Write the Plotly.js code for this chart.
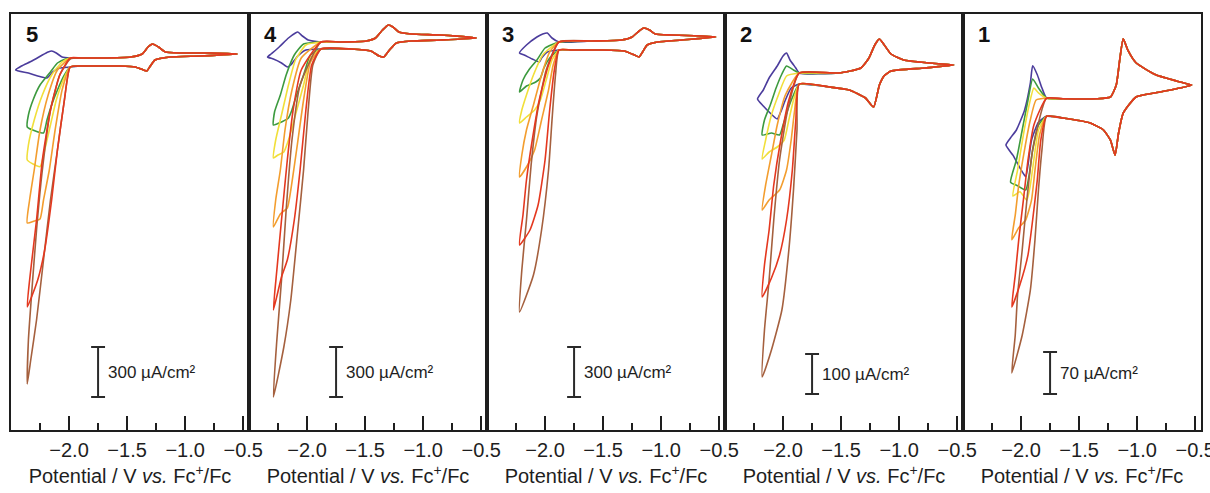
<!DOCTYPE html>
<html>
<head>
<meta charset="utf-8">
<script src="https://cdn.plot.ly/plotly-3.0.1.min.js"></script>
<style>html,body{margin:0;padding:0;background:#fff}#chart{width:1210px;height:493px}</style>
</head>
<body>
<div id="chart"></div>
<script>
// ---------- Panel 5 (current density in µA/cm², potential in V vs Fc+/Fc) ----------
const p5LowV = [-0.55, -0.87, -1.13, -1.26, -1.30, -1.33, -1.36, -1.43, -1.56, -1.73, -1.90];
const p5LowI = [36, 24, 18, 0, -36, -66, -60, -42, -36, -36, -36];
const p5UpV  = [-1.90, -1.73, -1.47, -1.37, -1.32, -1.28, -1.23, -1.17, -1.04, -0.78, -0.55];
const p5UpI  = [12, 12, 18, 36, 78, 96, 78, 48, 42, 42, 36];
const p5BlueV   = [-1.99, -2.08, -2.14, -2.19, -2.27, -2.35, -2.46, -2.41, -2.32, -2.23, -2.18, -2.15, -2.11, -2.06, -1.99];
const p5BlueI   = [-42, -48, -72, -108, -96, -78, -60, -36, -6, 30, 48, 54, 42, 18, 12];
const p5GreenV  = [-1.99, -2.04, -2.10, -2.15, -2.19, -2.22, -2.29, -2.36, -2.35, -2.31, -2.25, -2.16, -2.10, -2.03, -1.99];
const p5GreenI  = [-42, -90, -180, -270, -360, -438, -426, -402, -330, -240, -150, -72, -18, 6, 12];
const p5YellowV = [-1.99, -2.05, -2.11, -2.16, -2.21, -2.25, -2.31, -2.36, -2.35, -2.30, -2.23, -2.15, -2.06, -1.99];
const p5YellowI = [-42, -120, -240, -390, -540, -640, -624, -600, -510, -360, -210, -90, -12, 12];
const p5OrangeV = [-1.99, -2.06, -2.12, -2.17, -2.22, -2.25, -2.30, -2.36, -2.34, -2.30, -2.25, -2.18, -2.10, -1.99];
const p5OrangeI = [-42, -180, -420, -660, -840, -954, -966, -978, -840, -660, -420, -210, -60, 12];
const p5RedV    = [-1.99, -2.04, -2.10, -2.15, -2.21, -2.27, -2.36, -2.33, -2.28, -2.23, -2.16, -2.08, -1.99];
const p5RedI    = [-42, -240, -540, -840, -1140, -1320, -1482, -1260, -960, -600, -300, -90, 12];
const p5BrownV  = [-1.99, -2.04, -2.10, -2.16, -2.22, -2.28, -2.33, -2.36, -2.35, -2.32, -2.28, -2.23, -2.16, -2.08, -1.99];
const p5BrownI  = [-42, -240, -540, -840, -1200, -1560, -1800, -1944, -1680, -1380, -1020, -660, -300, -90, 6];

// ---------- Panel 4 ----------
const p4LowV = [-0.54, -0.85, -1.10, -1.23, -1.29, -1.34, -1.38, -1.45, -1.62, -1.88];
const p4LowI = [24, 12, 6, -6, -48, -90, -84, -54, -42, -42];
const p4UpV  = [-1.88, -1.71, -1.49, -1.41, -1.35, -1.30, -1.26, -1.21, -1.10, -0.85, -0.54];
const p4UpI  = [0, 0, 6, 24, 72, 102, 90, 60, 48, 42, 24];
const p4BlueV   = [-2.01, -2.08, -2.14, -2.17, -2.22, -2.29, -2.34, -2.31, -2.24, -2.16, -2.10, -2.08, -2.04, -1.99];
const p4BlueI   = [-48, -84, -138, -150, -126, -102, -90, -72, -30, 24, 54, 60, 36, 12];
const p4GreenV  = [-1.97, -2.03, -2.09, -2.13, -2.16, -2.22, -2.29, -2.28, -2.23, -2.18, -2.11, -2.03];
const p4GreenI  = [-78, -198, -318, -408, -456, -480, -498, -420, -318, -198, -78, -12];
const p4YellowV = [-1.97, -2.03, -2.10, -2.16, -2.20, -2.25, -2.29, -2.27, -2.22, -2.16, -2.10, -2.01];
const p4YellowI = [-96, -258, -438, -588, -660, -678, -696, -588, -438, -258, -108, -18];
const p4OrangeV = [-1.97, -2.03, -2.09, -2.14, -2.17, -2.23, -2.29, -2.27, -2.23, -2.19, -2.13, -2.05];
const p4OrangeI = [-120, -348, -648, -888, -996, -1032, -1110, -948, -768, -528, -288, -96];
const p4RedV    = [-1.96, -2.01, -2.06, -2.11, -2.17, -2.22, -2.29, -2.26, -2.22, -2.17, -2.12, -2.05];
const p4RedI    = [-138, -408, -768, -1068, -1308, -1410, -1608, -1368, -1068, -708, -408, -168];
const p4BrownV  = [-1.95, -1.99, -2.03, -2.08, -2.14, -2.20, -2.29, -2.26, -2.22, -2.18, -2.13, -2.06];
const p4BrownI  = [-138, -408, -768, -1128, -1548, -1830, -2130, -1788, -1428, -1008, -588, -258];

// ---------- Panel 3 ----------
const p3LowV = [-0.53, -0.82, -1.03, -1.12, -1.16, -1.19, -1.23, -1.32, -1.51, -1.77, -1.88];
const p3LowI = [30, 12, 0, -18, -60, -90, -78, -54, -48, -48, -48];
const p3UpV  = [-1.88, -1.60, -1.34, -1.25, -1.19, -1.15, -1.10, -1.05, -0.91, -0.65, -0.53];
const p3UpI  = [0, 6, 12, 30, 66, 84, 72, 48, 42, 36, 30];
const p3BlueV   = [-1.98, -2.03, -2.05, -2.11, -2.18, -2.22, -2.16, -2.07, -2.02, -1.98, -1.94];
const p3BlueI   = [-60, -96, -120, -102, -78, -66, -18, 30, 48, 54, 24];
const p3GreenV  = [-1.96, -2.01, -2.04, -2.08, -2.16, -2.22, -2.19, -2.14, -2.07, -2.00];
const p3GreenI  = [-96, -156, -216, -240, -264, -300, -228, -168, -108, -36];
const p3YellowV = [-1.94, -1.99, -2.04, -2.09, -2.16, -2.22, -2.20, -2.16, -2.10, -2.02];
const p3YellowI = [-108, -228, -348, -408, -450, -486, -408, -318, -198, -78];
const p3OrangeV = [-1.93, -1.97, -2.03, -2.09, -2.15, -2.22, -2.20, -2.16, -2.10, -2.03, -1.96];
const p3OrangeI = [-138, -288, -468, -648, -738, -810, -678, -528, -378, -198, -60];
const p3RedV    = [-1.92, -1.96, -2.00, -2.06, -2.13, -2.22, -2.19, -2.16, -2.11, -2.05, -1.97];
const p3RedI    = [-168, -408, -708, -978, -1128, -1218, -1038, -828, -588, -348, -138];
const p3BrownV  = [-1.91, -1.94, -1.97, -2.03, -2.10, -2.22, -2.20, -2.16, -2.12, -2.07, -1.99];
const p3BrownI  = [-198, -468, -768, -1128, -1398, -1620, -1368, -1068, -738, -438, -168];

// ---------- Panel 2 ----------
const p2LowV = [-0.53, -0.78, -1.07, -1.13, -1.17, -1.22, -1.29, -1.43, -1.60, -1.86];
const p2LowI = [12.5, 5, -2.5, -15, -37.5, -92.5, -70, -50, -42.5, -35];
const p2UpV  = [-1.86, -1.52, -1.33, -1.26, -1.21, -1.17, -1.14, -1.07, -0.96, -0.74, -0.53];
const p2UpI  = [-7.5, -7.5, 5, 30, 62.5, 77.5, 67.5, 40, 25, 17.5, 12.5];
const p2BlueV   = [-1.93, -1.98, -2.02, -2.05, -2.12, -2.17, -2.22, -2.17, -2.12, -2.05, -2.00, -1.97, -1.94, -1.89];
const p2BlueI   = [-45, -75, -105, -122.5, -105, -90, -72.5, -50, -20, 10, 35, 42.5, 25, 5];
const p2GreenV  = [-1.91, -1.96, -2.00, -2.03, -2.10, -2.18, -2.16, -2.11, -2.06, -2.01, -1.97, -1.91];
const p2GreenI  = [-62.5, -100, -137.5, -162.5, -157.5, -162.5, -125, -87.5, -45, -10, 10, 0];
const p2YellowV = [-1.91, -1.95, -1.99, -2.05, -2.12, -2.18, -2.15, -2.10, -2.04, -1.97];
const p2YellowI = [-75, -125, -175, -192.5, -205, -222.5, -175, -112.5, -62.5, -15];
const p2OrangeV = [-1.90, -1.93, -1.97, -2.03, -2.12, -2.18, -2.15, -2.10, -2.05, -1.98];
const p2OrangeI = [-100, -175, -250, -300, -325, -350, -287.5, -212.5, -137.5, -62.5];
const p2RedV    = [-1.89, -1.92, -1.97, -2.03, -2.10, -2.18, -2.16, -2.12, -2.08, -2.02, -1.95];
const p2RedI    = [-125, -250, -375, -462.5, -520, -567.5, -487.5, -400, -287.5, -175, -75];
const p2BrownV  = [-1.88, -1.91, -1.95, -2.01, -2.10, -2.18, -2.16, -2.12, -2.08, -2.03, -1.96];
const p2BrownI  = [-150, -300, -450, -600, -700, -767.5, -650, -525, -375, -225, -100];

// ---------- Panel 1 ----------
const p1LowV = [-0.53, -0.63, -0.84, -1.01, -1.12, -1.16, -1.19, -1.23, -1.29, -1.41, -1.64, -1.78];
const p1LowI = [25, 20, 12, 5, -22, -55, -92, -67, -50, -38, -30, -27];
const p1UpV  = [-1.78, -1.64, -1.35, -1.23, -1.18, -1.15, -1.12, -1.08, -1.01, -0.84, -0.63, -0.53];
const p1UpI  = [3, 2, 2, 5, 25, 67, 102, 83, 62, 42, 30, 25];
const p1BlueV   = [-1.85, -1.91, -1.94, -1.96, -2.01, -2.07, -2.13, -2.09, -2.04, -1.97, -1.92, -1.90, -1.86, -1.82];
const p1BlueI   = [-37, -67, -108, -128, -113, -92, -75, -63, -50, -17, 28, 57, 42, 20];
const p1GreenV  = [-1.85, -1.90, -1.93, -1.96, -2.03, -2.09, -2.04, -1.99, -1.94, -1.90, -1.85];
const p1GreenI  = [-42, -83, -125, -150, -143, -137, -100, -50, 0, 35, 20];
const p1YellowV = [-1.85, -1.89, -1.92, -1.95, -2.01, -2.07, -2.03, -1.98, -1.93, -1.89, -1.85];
const p1YellowI = [-50, -100, -142, -167, -153, -160, -117, -58, -8, 20, 12];
const p1OrangeV = [-1.84, -1.88, -1.91, -1.96, -2.02, -2.08, -2.05, -2.02, -1.97, -1.92, -1.87];
const p1OrangeI = [-58, -117, -167, -200, -213, -233, -192, -142, -83, -33, 0];
const p1RedV    = [-1.83, -1.86, -1.90, -1.94, -2.01, -2.08, -2.05, -2.02, -1.98, -1.94, -1.89];
const p1RedI    = [-67, -133, -200, -258, -308, -345, -292, -233, -167, -100, -42];
const p1BrownV  = [-1.82, -1.85, -1.88, -1.92, -1.99, -2.08, -2.05, -2.03, -1.99, -1.95, -1.90];
const p1BrownI  = [-83, -150, -233, -317, -392, -455, -392, -325, -250, -167, -83];

// ---------- Labels, scale bars, ticks ----------
const panelLabels = ['5', '4', '3', '2', '1'];
const scaleBarValue = [300, 300, 300, 100, 70];       // µA/cm²
const scaleBarBottom = [-2022, -2130, -2130, -810, -490]; // µA/cm²
const scaleBarText = ['300 µA/cm²', '300 µA/cm²', '300 µA/cm²', '100 µA/cm²', '70 µA/cm²'];
const yRanges = [[-2220, 276], [-2328, 168], [-2328, 168], [-900, 140], [-550, 143.33]];
const majorTicks = [-2.0, -1.5, -1.0, -0.5];
const minorTicks = [-2.25, -1.75, -1.25, -0.75];
const xRange = [-2.5, -0.45];
const scaleBarX = -1.75;

const colors = {
  blue: '#4b3c9c', green: '#3c9a3e', yellow: '#f1df3a',
  orange: '#f39d2e', brown: '#a5603e', red: '#e4381f'
};

const panels = [
  {low:[p5LowV,p5LowI], up:[p5UpV,p5UpI], tails:{blue:[p5BlueV,p5BlueI], green:[p5GreenV,p5GreenI], yellow:[p5YellowV,p5YellowI], orange:[p5OrangeV,p5OrangeI], brown:[p5BrownV,p5BrownI], red:[p5RedV,p5RedI]}},
  {low:[p4LowV,p4LowI], up:[p4UpV,p4UpI], tails:{blue:[p4BlueV,p4BlueI], green:[p4GreenV,p4GreenI], yellow:[p4YellowV,p4YellowI], orange:[p4OrangeV,p4OrangeI], brown:[p4BrownV,p4BrownI], red:[p4RedV,p4RedI]}},
  {low:[p3LowV,p3LowI], up:[p3UpV,p3UpI], tails:{blue:[p3BlueV,p3BlueI], green:[p3GreenV,p3GreenI], yellow:[p3YellowV,p3YellowI], orange:[p3OrangeV,p3OrangeI], brown:[p3BrownV,p3BrownI], red:[p3RedV,p3RedI]}},
  {low:[p2LowV,p2LowI], up:[p2UpV,p2UpI], tails:{blue:[p2BlueV,p2BlueI], green:[p2GreenV,p2GreenI], yellow:[p2YellowV,p2YellowI], orange:[p2OrangeV,p2OrangeI], brown:[p2BrownV,p2BrownI], red:[p2RedV,p2RedI]}},
  {low:[p1LowV,p1LowI], up:[p1UpV,p1UpI], tails:{blue:[p1BlueV,p1BlueI], green:[p1GreenV,p1GreenI], yellow:[p1YellowV,p1YellowI], orange:[p1OrangeV,p1OrangeI], brown:[p1BrownV,p1BrownI], red:[p1RedV,p1RedI]}}
];

const FONT = 'Liberation Sans, Arial, Helvetica, sans-serif';
const INK = '#1e1e1e';
const traces = [];
const layout = {
  width: 1210, height: 493,
  margin: {l: 11, r: 9, t: 14, b: 63},
  paper_bgcolor: '#fff', plot_bgcolor: '#fff',
  showlegend: false,
  font: {family: FONT, color: INK},
  shapes: [], annotations: []
};
const order = ['blue', 'green', 'yellow', 'orange', 'brown', 'red'];

panels.forEach((p, i) => {
  const n = i + 1;
  const xa = n === 1 ? 'x' : 'x' + n;
  const ya = n === 1 ? 'y' : 'y' + n;
  order.forEach(c => {
    const t = p.tails[c];
    traces.push({
      type: 'scatter', mode: 'lines',
      x: p.low[0].concat(t[0], p.up[0]),
      y: p.low[1].concat(t[1], p.up[1]),
      xaxis: xa, yaxis: ya,
      line: {color: colors[c], width: 1.6, shape: 'spline', smoothing: 0.5},
      hoverinfo: 'skip'
    });
  });
  layout['xaxis' + (n === 1 ? '' : n)] = {
    domain: [i * 0.2, (i + 1) * 0.2], anchor: ya, range: xRange,
    tickmode: 'array', tickvals: majorTicks, tickformat: '.1f',
    ticks: 'inside', ticklen: 14, tickwidth: 2, tickcolor: INK,
    minor: {tickmode: 'array', tickvals: minorTicks, ticks: 'inside', ticklen: 7, tickwidth: 2, tickcolor: INK, showgrid: false},
    showline: true, linewidth: 2, linecolor: INK, mirror: true,
    showgrid: false, zeroline: false,
    ticklabelstandoff: 1, ticklabeloverflow: 'allow',
    tickfont: {size: 20, family: FONT, color: INK},
    title: {text: 'Potential / V <i>vs.</i> Fc<sup>+</sup>/Fc', font: {size: 20, family: FONT, color: INK}, standoff: 9},
    fixedrange: true
  };
  layout['yaxis' + (n === 1 ? '' : n)] = {
    domain: [0, 1], anchor: xa, range: yRanges[i],
    showticklabels: false, ticks: '', showgrid: false, zeroline: false,
    showline: true, linewidth: 2, linecolor: INK, mirror: true, fixedrange: true
  };
  // scale bar
  const y0 = scaleBarBottom[i], y1 = scaleBarBottom[i] + scaleBarValue[i];
  const lineStyle = {color: '#2a2a2a', width: 2};
  layout.shapes.push({type: 'line', xref: xa, yref: ya, x0: scaleBarX, x1: scaleBarX, y0: y0, y1: y1, line: lineStyle});
  layout.shapes.push({type: 'line', xref: xa, yref: ya, x0: scaleBarX - 0.06, x1: scaleBarX + 0.06, y0: y0, y1: y0, line: lineStyle});
  layout.shapes.push({type: 'line', xref: xa, yref: ya, x0: scaleBarX - 0.06, x1: scaleBarX + 0.06, y0: y1, y1: y1, line: lineStyle});
  layout.annotations.push({
    xref: xa, yref: ya, x: scaleBarX + 0.07, y: (y0 + y1) / 2,
    text: scaleBarText[i], showarrow: false, xanchor: 'left', yanchor: 'middle',
    font: {size: 17, family: FONT, color: INK}
  });
  layout.annotations.push({
    xref: xa + ' domain', yref: ya + ' domain', x: 0.055, y: 0.951,
    text: '<b>' + panelLabels[i] + '</b>', showarrow: false, xanchor: 'left', yanchor: 'middle',
    font: {size: 22, family: FONT, color: '#111'}
  });
});

Plotly.newPlot('chart', traces, layout, {staticPlot: true, displayModeBar: false});
</script>
</body>
</html>
